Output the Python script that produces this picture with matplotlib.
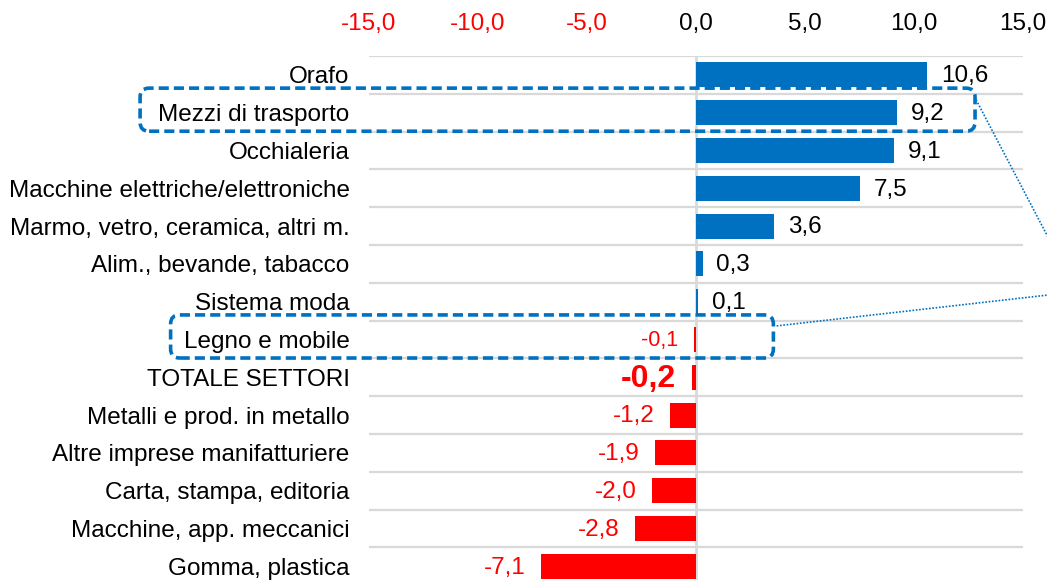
import numpy as np
import matplotlib
matplotlib.use("Agg")
import matplotlib.pyplot as plt
from matplotlib.patches import FancyBboxPatch
from matplotlib.lines import Line2D
from matplotlib.transforms import IdentityTransform

plt.rcParams['font.family'] = ['Liberation Sans', 'DejaVu Sans']

categories = ["Orafo", "Mezzi di trasporto", "Occhialeria",
              "Macchine elettriche/elettroniche", "Marmo, vetro, ceramica, altri m.",
              "Alim., bevande, tabacco", "Sistema moda", "Legno e mobile",
              "TOTALE SETTORI", "Metalli e prod. in metallo",
              "Altre imprese manifatturiere", "Carta, stampa, editoria",
              "Macchine, app. meccanici", "Gomma, plastica"]
values = [10.6, 9.2, 9.1, 7.5, 3.6, 0.3, 0.1, -0.1, -0.2, -1.2, -1.9, -2.0, -2.8, -7.1]
x_ticks = [-15.0, -10.0, -5.0, 0.0, 5.0, 10.0, 15.0]
highlighted = ["Mezzi di trasporto", "Legno e mobile"]

BLUE = "#0070C0"
RED = "#FF0000"
GRID = "#D9D9D9"

def fmt(v):
    return f"{v:.1f}".replace(".", ",")

fig = plt.figure(figsize=(10.47, 5.80), dpi=100)
ax = fig.add_axes([369/1047, 0.0, (1023-369)/1047, (580-56)/580])

y = np.arange(len(categories))
colors = [BLUE if v >= 0 else RED for v in values]
ax.barh(y, values, height=0.66, color=colors, zorder=3)

ax.set_xlim(x_ticks[0], x_ticks[-1])
ax.set_ylim(-0.5 + 524/37.8, -0.5)

ax.set_yticks(y)
ax.set_yticklabels(categories, fontsize=17.5)
ax.tick_params(axis='y', length=0, pad=14)
ax.set_yticks(np.arange(-0.5, len(categories) - 0.5), minor=True)
ax.tick_params(axis='y', which='minor', length=0)
ax.grid(which='minor', axis='y', color=GRID, linewidth=1.6, zorder=0)

ax.xaxis.tick_top()
ax.set_xticks(x_ticks)
ax.set_xticklabels([fmt(t) for t in x_ticks], fontsize=17.5)
ax.tick_params(axis='x', length=0, pad=15)
for lab, t in zip(ax.get_xticklabels(), x_ticks):
    lab.set_color(RED if t < 0 else "black")

for s in ax.spines.values():
    s.set_visible(False)
ax.axvline(0, color=GRID, linewidth=2.0, zorder=2)

for i, (c, v) in enumerate(zip(categories, values)):
    size, weight = 17.5, 'normal'
    if c == "TOTALE SETTORI":
        size, weight = 23, 'bold'
    elif c == "Legno e mobile":
        size = 15.5
    if v >= 0:
        ax.annotate(fmt(v), (v, i), xytext=(10, -1), textcoords='offset points',
                    ha='left', va='center', fontsize=size, fontweight=weight,
                    color='black', zorder=5)
    else:
        ax.annotate(fmt(v), (v, i), xytext=(-11, -1), textcoords='offset points',
                    ha='right', va='center', fontsize=size, fontweight=weight,
                    color=RED, zorder=5)

# highlight boxes (in pixel space computed from data coords)
box_extents = {"Mezzi di trasporto": (-25.5, 12.8), "Legno e mobile": (-24.1, 3.55)}
connectors = {"Mezzi di trasporto": ((12.85, 0.66), (16.2, 4.35)),
              "Legno e mobile": ((3.7, 6.64), (16.2, 5.82))}
fig.canvas.draw()
for c in highlighted:
    i = categories.index(c)
    x0, x1 = box_extents[c]
    p0 = ax.transData.transform((x0, i + 0.49))
    p1 = ax.transData.transform((x1, i - 0.65))
    patch = FancyBboxPatch((p0[0], p0[1]), p1[0] - p0[0], p1[1] - p0[1],
                           boxstyle="round,pad=0,rounding_size=9",
                           fill=False, edgecolor=BLUE, linewidth=2.6,
                           linestyle=(0, (2.8, 1.4)), transform=IdentityTransform(),
                           zorder=6)
    fig.add_artist(patch)
    (a, b) = connectors[c]
    q0 = ax.transData.transform(a)
    q1 = ax.transData.transform(b)
    line = Line2D([q0[0], q1[0]], [q0[1], q1[1]], color=BLUE, linewidth=1.2,
                  linestyle=(0, (1, 1)), transform=IdentityTransform(), zorder=6)
    fig.add_artist(line)

fig.savefig("out.png", dpi=100)
